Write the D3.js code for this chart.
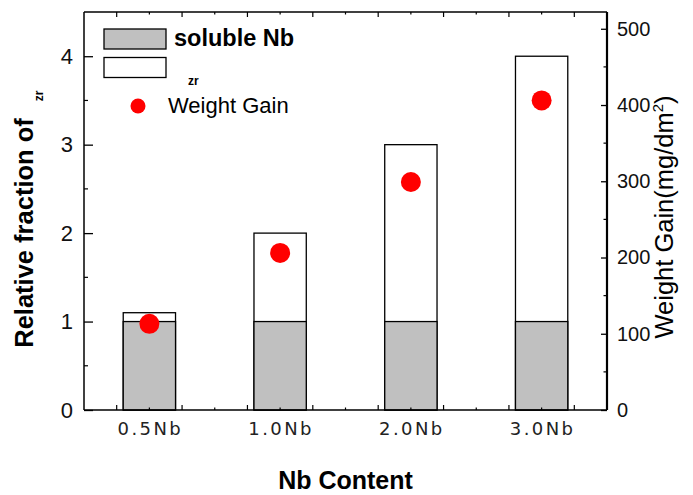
<!DOCTYPE html>
<html>
<head>
<meta charset="utf-8">
<script src="https://cdn.jsdelivr.net/npm/d3@7"></script>
<style>
  body { margin: 0; background: #fff; }
  svg { display: block; }
</style>
</head>
<body>
<div id="chart"></div>
<script>
const categories = ['0.5Nb', '1.0Nb', '2.0Nb', '3.0Nb']
const solubleNb = [1.0, 1.0, 1.0, 1.0]
const totalFraction = [1.1, 2.0, 3.0, 4.0]
const weightGain = [113, 206, 299, 406]
const leftTicks = [0, 1, 2, 3, 4]
const rightTicks = [0, 100, 200, 300, 400, 500]

const W = 693, H = 495
const m = { top: 12, right: 86, bottom: 85, left: 84 }
const iw = W - m.left - m.right
const ih = H - m.top - m.bottom
const SANS = '"Liberation Sans", Arial, sans-serif'

const svg = d3.select('#chart').append('svg')
  .attr('width', W).attr('height', H)

const g = svg.append('g').attr('transform', `translate(${m.left},${m.top})`)

const x = d3.scaleBand().domain(categories).range([0, iw])
  .paddingInner(0.6).paddingOuter(0.3)
const y = d3.scaleLinear().domain([0, 4.5]).range([ih, 0])
const y2 = d3.scaleLinear().domain([0, 522]).range([ih, 0])

// bars: total (white) behind, soluble (gray) on top
const rows = categories.map((c, i) => ({ c, sol: solubleNb[i], tot: totalFraction[i], wg: weightGain[i] }))

g.selectAll('rect.total').data(rows).enter().append('rect')
  .attr('class', 'total')
  .attr('x', d => x(d.c)).attr('width', x.bandwidth())
  .attr('y', d => y(d.tot)).attr('height', d => y(0) - y(d.tot))
  .attr('fill', '#fff').attr('stroke', '#000').attr('stroke-width', 1.3)

g.selectAll('rect.sol').data(rows).enter().append('rect')
  .attr('class', 'sol')
  .attr('x', d => x(d.c)).attr('width', x.bandwidth())
  .attr('y', d => y(d.sol)).attr('height', d => y(0) - y(d.sol))
  .attr('fill', '#c0c0c0').attr('stroke', '#000').attr('stroke-width', 1.3)

// weight gain dots
g.selectAll('circle.wg').data(rows).enter().append('circle')
  .attr('class', 'wg')
  .attr('cx', d => x(d.c) + x.bandwidth() / 2)
  .attr('cy', d => y2(d.wg))
  .attr('r', 10)
  .attr('fill', '#ff0000')

// frame
g.append('line').attr('x1', 0).attr('x2', iw).attr('y1', 0).attr('y2', 0)
  .attr('stroke', '#000').attr('stroke-width', 1.5)
g.append('line').attr('x1', 0).attr('x2', iw).attr('y1', ih).attr('y2', ih)
  .attr('stroke', '#000').attr('stroke-width', 1.5)
g.append('line').attr('x1', 0).attr('x2', 0).attr('y1', 0).attr('y2', ih)
  .attr('stroke', '#000').attr('stroke-width', 1.5)
g.append('line').attr('x1', iw).attr('x2', iw).attr('y1', 0).attr('y2', ih)
  .attr('stroke', '#000').attr('stroke-width', 2.2)

// bottom / top ticks every quarter step, odd ones longer
const step = x.step()
const xt = d3.range(1, categories.length * 4).map(k => ({ pos: k * step / 4, major: k % 2 === 1 }))
xt.forEach(t => {
  const len = t.major ? 5 : 2.5
  g.append('line').attr('x1', t.pos).attr('x2', t.pos).attr('y1', ih).attr('y2', ih - len)
    .attr('stroke', '#000').attr('stroke-width', 1.2)
  g.append('line').attr('x1', t.pos).attr('x2', t.pos).attr('y1', 0).attr('y2', len)
    .attr('stroke', '#000').attr('stroke-width', 1.2)
})

// x labels
g.selectAll('text.xl').data(categories).enter().append('text')
  .attr('class', 'xl')
  .attr('x', d => x(d) + x.bandwidth() / 2 + 1)
  .attr('y', ih + 25)
  .attr('text-anchor', 'middle')
  .attr('font-family', '"DejaVu Sans", sans-serif')
  .attr('font-size', 18)
  .attr('letter-spacing', 2.4)
  .attr('fill', '#222')
  .text(d => d)

// left axis
const yAxis = d3.axisLeft(y).tickValues(leftTicks).tickSize(-9).tickPadding(11).tickFormat(d3.format('d'))
const ya = g.append('g').call(yAxis)
ya.select('.domain').remove()
ya.selectAll('line').attr('stroke-width', 1.3)
ya.selectAll('text').attr('font-family', SANS).attr('font-size', 22).attr('fill', '#111')
g.append('g').selectAll('line').data(d3.range(0.5, 4.5, 1)).enter().append('line')
  .attr('x1', 0).attr('x2', 4).attr('y1', d => y(d)).attr('y2', d => y(d))
  .attr('stroke', '#000').attr('stroke-width', 1.2)

// right axis
const y2Axis = d3.axisRight(y2).tickValues(rightTicks).tickSize(-6).tickPadding(10).tickFormat(d3.format('d'))
const ya2 = g.append('g').attr('transform', `translate(${iw},0)`).call(y2Axis)
ya2.select('.domain').remove()
ya2.selectAll('line').attr('stroke-width', 1.3)
ya2.selectAll('text').attr('font-family', SANS).attr('font-size', 20).attr('fill', '#111')
g.append('g').selectAll('line').data(d3.range(50, 522, 100)).enter().append('line')
  .attr('x1', iw).attr('x2', iw - 3.5).attr('y1', d => y2(d)).attr('y2', d => y2(d))
  .attr('stroke', '#000').attr('stroke-width', 1.2)

// axis titles
svg.append('text')
  .attr('transform', `translate(33,${m.top + 221}) rotate(-90)`)
  .attr('text-anchor', 'middle')
  .attr('font-family', SANS).attr('font-size', 25.5).attr('font-weight', 'bold')
  .text('Relative fraction of')
svg.append('text')
  .attr('transform', `translate(43,96) rotate(-90)`)
  .attr('text-anchor', 'middle')
  .attr('font-family', SANS).attr('font-size', 12).attr('font-weight', 'bold')
  .text('zr')

const rt = svg.append('text')
  .attr('transform', `translate(673,${m.top + 205}) rotate(-90)`)
  .attr('text-anchor', 'middle')
  .attr('font-family', SANS).attr('font-size', 25.5)
rt.append('tspan').text('Weight Gain(mg/dm')
rt.append('tspan').attr('font-size', 15).attr('dy', -10).text('2')
rt.append('tspan').attr('dy', 10).text(')')

svg.append('text')
  .attr('x', m.left + iw / 2).attr('y', 489)
  .attr('text-anchor', 'middle')
  .attr('font-family', SANS).attr('font-size', 25).attr('font-weight', 'bold')
  .text('Nb Content')

// legend
const lg = svg.append('g')
lg.append('rect').attr('x', 104).attr('y', 29).attr('width', 62).attr('height', 20)
  .attr('fill', '#c0c0c0').attr('stroke', '#000').attr('stroke-width', 1.3)
lg.append('text').attr('x', 174).attr('y', 46)
  .attr('font-family', SANS).attr('font-size', 23.5).attr('font-weight', 'bold')
  .text('soluble Nb')
lg.append('rect').attr('x', 104).attr('y', 57.5).attr('width', 62).attr('height', 20)
  .attr('fill', '#fff').attr('stroke', '#000').attr('stroke-width', 1.3)
lg.append('text').attr('x', 188).attr('y', 85)
  .attr('font-family', SANS).attr('font-size', 12).attr('font-weight', 'bold')
  .text('zr')
lg.append('circle').attr('cx', 138).attr('cy', 106).attr('r', 7.5).attr('fill', '#ff0000')
lg.append('text').attr('x', 168).attr('y', 113)
  .attr('font-family', SANS).attr('font-size', 22)
  .text('Weight Gain')
</script>
</body>
</html>
